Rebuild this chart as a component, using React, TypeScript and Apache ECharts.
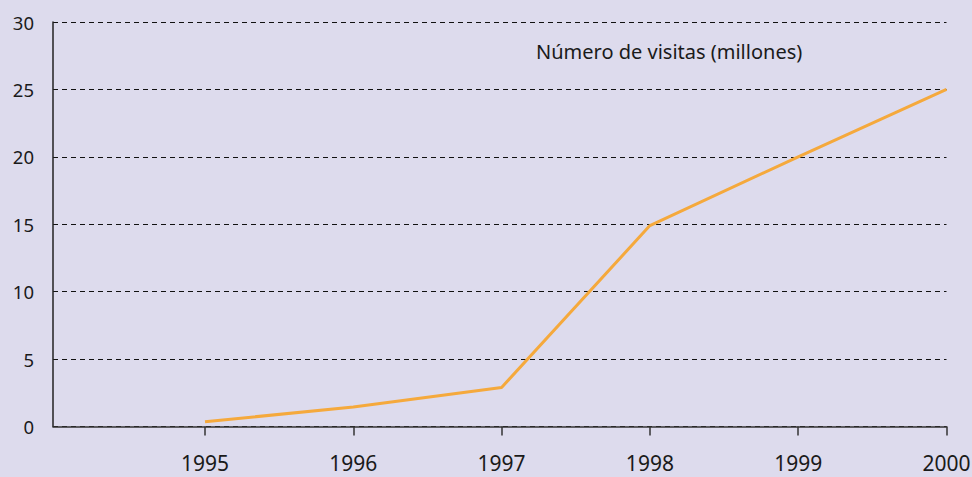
import React, { useEffect, useRef } from "react";
import * as echarts from "echarts";

const years = [1995, 1996, 1997, 1998, 1999, 2000];
const visits = [0.35, 1.45, 2.9, 14.9, 20, 25];
const yTicks = [0, 5, 10, 15, 20, 25, 30];
const titleText = "Número de visitas (millones)";

export default function App() {
  const ref = useRef<HTMLDivElement>(null);
  useEffect(() => {
    if (!ref.current) return;
    const chart = echarts.init(ref.current, null, { renderer: "svg" });
    const font = "'Noto Sans', sans-serif";
    chart.setOption({
      animation: false,
      backgroundColor: "#dddbed",
      grid: { left: 53, top: 22, right: 25.5, bottom: 50.5, containLabel: false, outerBoundsMode: "none" },
      graphic: [
        {
          type: "text",
          left: 536,
          top: 41,
          style: { text: titleText, font: `20px ${font}`, fill: "#1a1a1a" },
        },
      ],
      xAxis: {
        type: "value",
        min: 1993.975,
        max: 2000,
        splitLine: { show: false },
        axisLine: { show: true, lineStyle: { color: "#333", width: 1.5 } },
        axisTick: { show: true, customValues: years, length: 9, lineStyle: { color: "#333", width: 1.5 } },
        axisLabel: {
          customValues: years,
          formatter: (v: number) => String(v),
          fontFamily: font,
          fontSize: 21,
          color: "#1a1a1a",
          margin: 26,
        },
      },
      yAxis: {
        type: "value",
        min: 0,
        max: 30,
        interval: 5,
        axisLine: { show: true, lineStyle: { color: "#222", width: 1.5 } },
        axisTick: { show: false },
        axisLabel: {
          fontFamily: font,
          fontSize: 18.5,
          color: "#1a1a1a",
          margin: 19,
          customValues: yTicks,
        },
        splitLine: { show: true, lineStyle: { color: "#111", type: [5, 4], width: 1.2 } },
      },
      series: [
        {
          type: "line",
          data: years.map((y, i) => [y, visits[i]]),
          symbol: "none",
          lineStyle: { color: "#f5a93c", width: 3 },
        },
      ],
    });
    return () => chart.dispose();
  }, []);
  return <div ref={ref} style={{ position: "fixed", left: 0, top: 0, width: 972, height: 477 }} />;
}
